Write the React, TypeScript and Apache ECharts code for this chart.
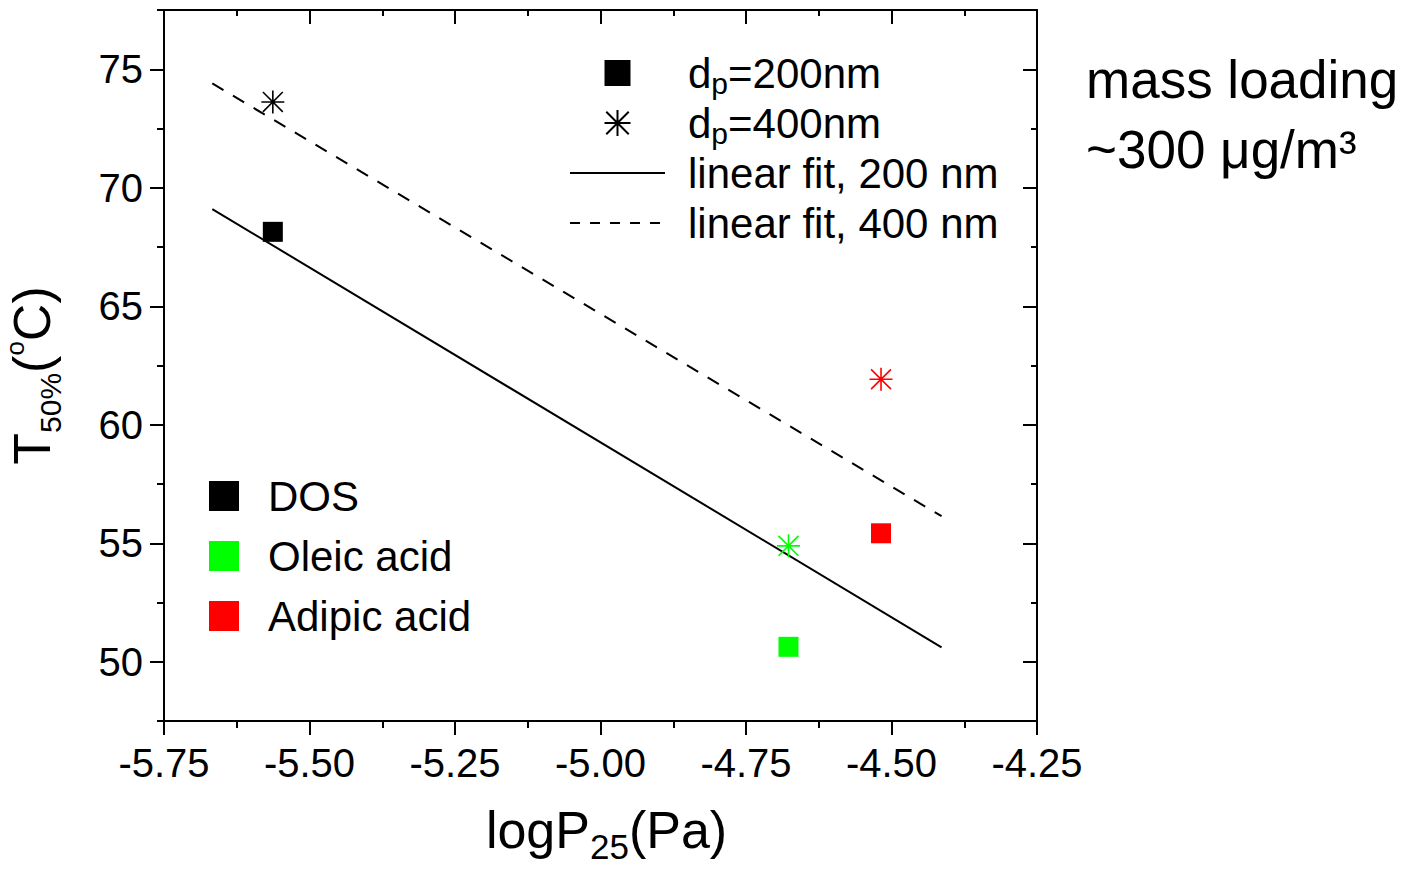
import React, { useEffect, useRef } from 'react';
import * as echarts from 'echarts';

// ---- data ----
const compounds = ['DOS', 'Oleic acid', 'Adipic acid'];
const compoundColors = ['#000000', '#00ff00', '#ff0000'];
const logP25 = [-5.563, -4.677, -4.518];
const t50At200nm = [68.14, 50.63, 55.42];
const t50At400nm = [73.62, 54.89, 61.92];
const fitX = [-5.667, -4.414];
const fit200Y = [69.1, 50.61];
const fit400Y = [74.4, 56.14];
const yMajorTicks = [50, 55, 60, 65, 70, 75];
const yMinorTicks = [47.5, 52.5, 57.5, 62.5, 67.5, 72.5, 77.5];
const sizeLegendNames = ['dp=200nm', 'dp=400nm', 'linear fit, 200 nm', 'linear fit, 400 nm'];

const FONT = '"Liberation Sans", Arial, Helvetica, sans-serif';
const SQUARE = 'path://M0,0H10V10H0Z';
const STAR = 'path://M0,-11L0,11M-11,0L11,0M-9.5,-9.5L9.5,9.5M-9.5,9.5L9.5,-9.5';

export default function App() {
  const ref = useRef<HTMLDivElement>(null);
  useEffect(() => {
    if (!ref.current) return;
    const chart = echarts.init(ref.current, null, { renderer: 'svg' });
    const black = '#000';
    const axisLine = { show: true, lineStyle: { color: black, width: 2 } };
    const commonX = { type: 'value', min: -5.75, max: -4.25, interval: 0.25, splitLine: { show: false } };
    const commonY = { type: 'value', min: 47.5, max: 77.5, splitLine: { show: false } };
    const option: any = {
      animation: false,
      backgroundColor: '#fff',
      grid: { left: 164, top: 10, width: 873, height: 711, containLabel: false, outerBoundsMode: 'none' },
      xAxis: [
        {
          ...commonX,
          position: 'bottom',
          axisLine,
          axisTick: { show: true, inside: false, length: 14, lineStyle: { color: black, width: 2 } },
          minorTick: { show: true, splitNumber: 2, length: 7, lineStyle: { color: black, width: 2 } },
          axisLabel: {
            show: true, showMinLabel: true, showMaxLabel: true,
            fontSize: 40, color: black, fontFamily: FONT, margin: 22,
            formatter: (v: number) => v.toFixed(2),
          },
          name: '{a|logP}{s|25}{a|(Pa)}',
          nameLocation: 'middle',
          nameGap: 79,
          nameTextStyle: {
            fontSize: 52, color: black, fontFamily: FONT, lineHeight: 60, padding: [0, 0, 0, 12],
            rich: {
              a: { fontSize: 52, fontFamily: FONT, color: black },
              s: { fontSize: 35, fontFamily: FONT, color: black, verticalAlign: 'top', lineHeight: 26, padding: [29, 0, 0, 0] },
            },
          },
        },
        {
          ...commonX,
          position: 'top',
          axisLine,
          axisTick: { show: true, inside: true, length: 14, lineStyle: { color: black, width: 2 } },
          minorTick: { show: true, splitNumber: 2, length: 6, lineStyle: { color: black, width: 2 } },
          axisLabel: { show: false },
        },
      ],
      yAxis: [
        {
          ...commonY,
          position: 'left',
          axisLine,
          axisTick: { show: true, inside: false, length: 14, customValues: yMajorTicks, lineStyle: { color: black, width: 2 } },
          axisLabel: { show: true, customValues: yMajorTicks, fontSize: 40, color: black, fontFamily: FONT, margin: 21 },
          name: '{a|T}{s|50%}{a|(}{o|o}{a|C)}',
          nameLocation: 'middle',
          nameGap: 102,
          nameTextStyle: {
            fontSize: 52, color: black, fontFamily: FONT, lineHeight: 60, padding: [0, 20, 0, 0],
            rich: {
              a: { fontSize: 52, fontFamily: FONT, color: black },
              s: { fontSize: 30, fontFamily: FONT, color: black, verticalAlign: 'top', lineHeight: 26, padding: [33, 0, 0, 0] },
              o: { fontSize: 26, fontFamily: FONT, color: black, verticalAlign: 'top', lineHeight: 26 },
            },
          },
        },
        {
          ...commonY,
          position: 'left',
          axisLine: { show: false },
          axisTick: { show: true, inside: false, length: 7, customValues: yMinorTicks, lineStyle: { color: black, width: 2 } },
          axisLabel: { show: false },
        },
        {
          ...commonY,
          position: 'right',
          axisLine,
          axisTick: { show: true, inside: true, length: 14, customValues: yMajorTicks, lineStyle: { color: black, width: 2 } },
          axisLabel: { show: false },
        },
        {
          ...commonY,
          position: 'right',
          axisLine: { show: false },
          axisTick: { show: true, inside: true, length: 6, customValues: yMinorTicks, lineStyle: { color: black, width: 2 } },
          axisLabel: { show: false },
        },
      ],
      legend: [
        {
          orient: 'vertical',
          left: 569,
          top: 48,
          padding: 0,
          itemWidth: 95,
          itemHeight: 26,
          itemGap: 0,
          selectedMode: false,
          data: [
            { name: sizeLegendNames[0], icon: SQUARE },
            { name: sizeLegendNames[1] },
            { name: sizeLegendNames[2], itemStyle: { opacity: 0 } },
            { name: sizeLegendNames[3], itemStyle: { opacity: 0 }, lineStyle: { type: [10, 10] } },
          ],
          formatter: (name: string) =>
            name.startsWith('dp') ? `{a|d}{s|p}{a|${name.slice(2)}}` : `{a|${name}}`,
          textStyle: {
            fontSize: 42, color: black, fontFamily: FONT, lineHeight: 50, padding: [0, 0, 0, 18],
            rich: {
              a: { fontSize: 42, fontFamily: FONT, color: black },
              s: { fontSize: 30, fontFamily: FONT, color: black, verticalAlign: 'bottom', lineHeight: 26 },
            },
          },
        },
        {
          orient: 'vertical',
          left: 209,
          top: 466,
          padding: 0,
          itemWidth: 30,
          itemHeight: 30,
          itemGap: 0,
          selectedMode: false,
          data: compounds.map((n) => ({ name: n, icon: SQUARE })),
          textStyle: { fontSize: 42, color: black, fontFamily: FONT, lineHeight: 60, padding: [0, 0, 0, 24] },
        },
      ],
      graphic: [
        {
          type: 'text',
          left: 1086,
          top: 44,
          style: { text: 'mass loading\n~300 μg/m³', fontSize: 53, lineHeight: 70, fontFamily: FONT, fill: black },
        },
      ],
      series: [
        {
          name: sizeLegendNames[0],
          type: 'scatter',
          symbol: 'rect',
          symbolSize: 20,
          itemStyle: { color: black, opacity: 1 },
          data: logP25.map((x, i) => ({ value: [x, t50At200nm[i]], itemStyle: { color: compoundColors[i] } })),
          z: 3,
        },
        {
          name: sizeLegendNames[1],
          type: 'scatter',
          symbol: STAR,
          symbolSize: 23,
          itemStyle: { color: black, borderColor: black, borderWidth: 1.6, opacity: 1 },
          data: logP25.map((x, i) => ({
            value: [x, t50At400nm[i]],
            itemStyle: { color: compoundColors[i], borderColor: compoundColors[i] },
          })),
          z: 3,
        },
        {
          name: sizeLegendNames[2],
          type: 'line',
          symbol: 'none',
          lineStyle: { color: black, width: 2 },
          itemStyle: { color: black },
          data: fitX.map((x, i) => [x, fit200Y[i]]),
          z: 2,
        },
        {
          name: sizeLegendNames[3],
          type: 'line',
          symbol: 'none',
          lineStyle: { color: black, width: 2, type: [13, 11] },
          itemStyle: { color: black },
          data: fitX.map((x, i) => [x, fit400Y[i]]),
          z: 2,
        },
        ...compounds.map((n, i) => ({
          name: n,
          type: 'scatter',
          data: [],
          itemStyle: { color: compoundColors[i], opacity: 1 },
        })),
      ],
    };
    chart.setOption(option);
    return () => chart.dispose();
  }, []);
  return <div ref={ref} style={{ position: 'absolute', left: 0, top: 0, width: 1414, height: 869 }} />;
}
